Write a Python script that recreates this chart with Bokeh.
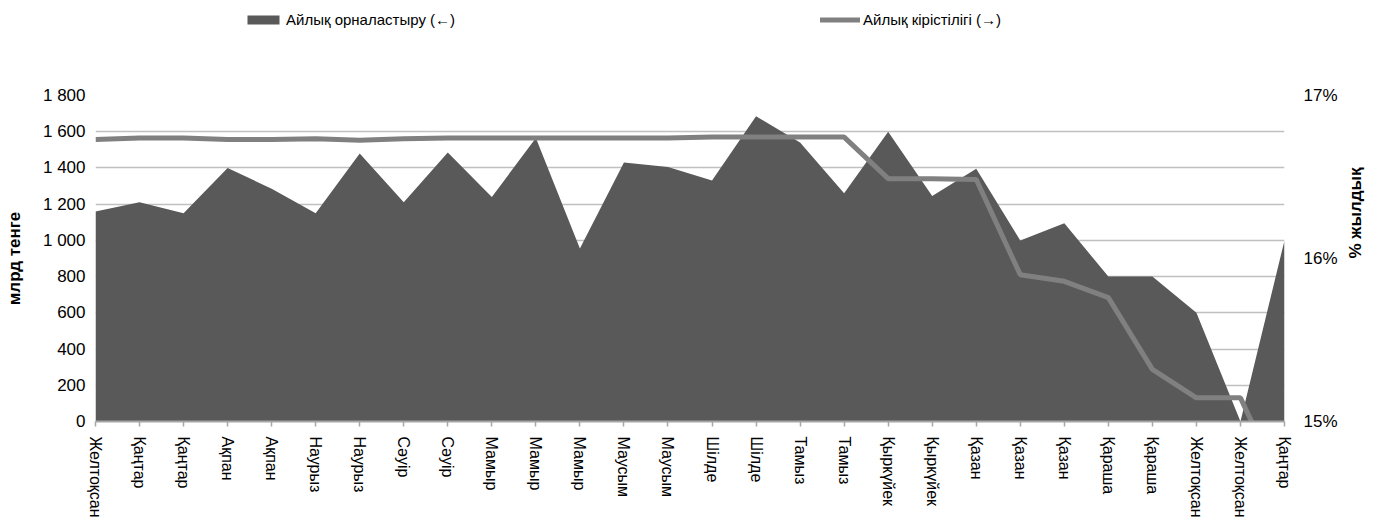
import math
from bokeh.plotting import figure
from bokeh.layouts import column
from bokeh.models import (Range1d, LinearAxis, FixedTicker, Legend, LegendItem)
from bokeh.embed import file_html
from bokeh.resources import INLINE

categories = ["Желтоқсан", "Қаңтар", "Қаңтар", "Ақпан", "Ақпан", "Наурыз", "Наурыз",
              "Сәуір", "Сәуір", "Мамыр", "Мамыр", "Мамыр", "Маусым", "Маусым",
              "Шілде", "Шілде", "Тамыз", "Тамыз", "Қыркүйек", "Қыркүйек",
              "Қазан", "Қазан", "Қазан", "Қараша", "Қараша", "Желтоқсан", "Желтоқсан", "Қаңтар"]
placement = [1160, 1210, 1150, 1400, 1285, 1150, 1480, 1210, 1485, 1240, 1565, 955,
             1430, 1405, 1330, 1685, 1540, 1260, 1600, 1245, 1395, 1000, 1095, 800,
             800, 600, 0, 1000]
yield_pct = [16.73, 16.74, 16.74, 16.73, 16.73, 16.735, 16.725, 16.735, 16.74, 16.74,
             16.74, 16.74, 16.74, 16.74, 16.745, 16.745, 16.745, 16.745, 16.49, 16.49,
             16.485, 15.90, 15.86, 15.76, 15.32, 15.145, 15.145, 14.57]
left_ticks = [0, 200, 400, 600, 800, 1000, 1200, 1400, 1600, 1800]
left_tick_labels = ["0", "200", "400", "600", "800", "1 000", "1 200", "1 400", "1 600", "1 800"]
right_ticks = [15, 16, 17]
right_tick_labels = ["15%", "16%", "17%"]
legend_area = "Айлық орналастыру (←)"
legend_line = "Айлық кірістілігі (→)"
left_title = "млрд тенге"
right_title = "% жылдық"

FONT = "Liberation Sans"
AREA = "#595959"
LINE = "#808080"

x = list(range(len(categories)))

# ---- legend strip on top ----
lg_fig = figure(width=1377, height=40, output_backend="svg", toolbar_location=None,
                x_range=Range1d(0, 1), y_range=Range1d(0, 1),
                x_axis_location=None, y_axis_location=None,
                min_border_left=95, min_border_right=90, min_border_top=0, min_border_bottom=0)
lg_fig.outline_line_color = None
lg_fig.grid.grid_line_color = None
# legend proxies (kept outside the visible range of this strip)
d_area = lg_fig.varea(x=[5, 6], y1=[5, 5], y2=[6, 6], fill_color=AREA)
d_line = lg_fig.line(x=[5, 6], y=[5, 5], line_color=LINE, line_width=5, line_cap="round")

def mk_legend(label, r, loc):
    return Legend(items=[LegendItem(label=label, renderers=[r])], location=loc,
                  orientation="horizontal", padding=0, margin=0, spacing=0,
                  border_line_color=None, background_fill_alpha=0,
                  label_standoff=3, glyph_width=40, glyph_height=11,
                  label_height=17, label_text_font=FONT, label_text_font_size="15px",
                  label_text_color="black")

lg_fig.add_layout(mk_legend(legend_area, d_area, (148, 12)))
lg_fig.add_layout(mk_legend(legend_line, d_line, (725, 12)))

# ---- main chart ----
p = figure(width=1377, height=480, output_backend="svg", toolbar_location=None,
           x_range=Range1d(0, len(categories) - 1), y_range=Range1d(0, 1800),
           min_border_left=95, min_border_right=90, min_border_top=55, min_border_bottom=98)
p.extra_y_ranges = {"pct": Range1d(15, 17)}
p.outline_line_color = None
p.background_fill_color = "white"

area = p.varea(x=x, y1=[0] * len(x), y2=placement, fill_color=AREA)
ln = p.line(x=x, y=yield_pct, y_range_name="pct", line_color=LINE, line_width=5)

# x axis
xa = p.xaxis[0]
xa.ticker = FixedTicker(ticks=x)
xa.major_label_overrides = {i: c for i, c in enumerate(categories)}
xa.major_label_orientation = "vertical"
xa.major_label_text_font = FONT
xa.major_label_text_font_size = "16px"
xa.major_label_text_color = "black"
xa.axis_line_color = "#a6a6a6"
xa.axis_line_width = 2
xa.major_tick_line_color = "#a6a6a6"
xa.major_tick_line_width = 1.5
xa.major_tick_out = 5
xa.major_tick_in = 0
xa.minor_tick_line_color = None
xa.major_label_standoff = 10

# left axis
ya = p.yaxis[0]
ya.ticker = FixedTicker(ticks=left_ticks)
ya.major_label_overrides = dict(zip(left_ticks, left_tick_labels))
ya.major_label_text_font = FONT
ya.major_label_text_font_size = "17px"
ya.major_label_text_color = "black"
ya.axis_line_color = None
ya.major_tick_line_color = None
ya.major_tick_out = 0
ya.major_tick_in = 0
ya.minor_tick_line_color = None
ya.minor_tick_out = 0
ya.major_label_standoff = 10
ya.axis_label = left_title
ya.axis_label_text_font = FONT
ya.axis_label_text_font_size = "17px"
ya.axis_label_text_font_style = "bold"
ya.axis_label_text_color = "black"
ya.axis_label_standoff = 16

# right axis
ra = LinearAxis(y_range_name="pct", ticker=FixedTicker(ticks=right_ticks))
ra.major_label_overrides = dict(zip(right_ticks, right_tick_labels))
ra.major_label_text_font = FONT
ra.major_label_text_font_size = "17px"
ra.major_label_text_color = "black"
ra.axis_line_color = None
ra.major_tick_line_color = None
ra.major_tick_out = 0
ra.major_tick_in = 0
ra.minor_tick_line_color = None
ra.minor_tick_out = 0
ra.major_label_standoff = 19
ra.axis_label = right_title
ra.axis_label_text_font = FONT
ra.axis_label_text_font_size = "17px"
ra.axis_label_text_font_style = "bold"
ra.axis_label_text_color = "black"
ra.axis_label_standoff = 15
try:
    ra.axis_label_orientation = math.pi / 2
except Exception:
    pass
p.add_layout(ra, "right")

p.xgrid.grid_line_color = None
p.ygrid.grid_line_color = "#c0c0c0"
p.ygrid.grid_line_width = 1.5

layout = column(lg_fig, p, spacing=0)
open("out.html", "w").write(file_html(layout, INLINE))
